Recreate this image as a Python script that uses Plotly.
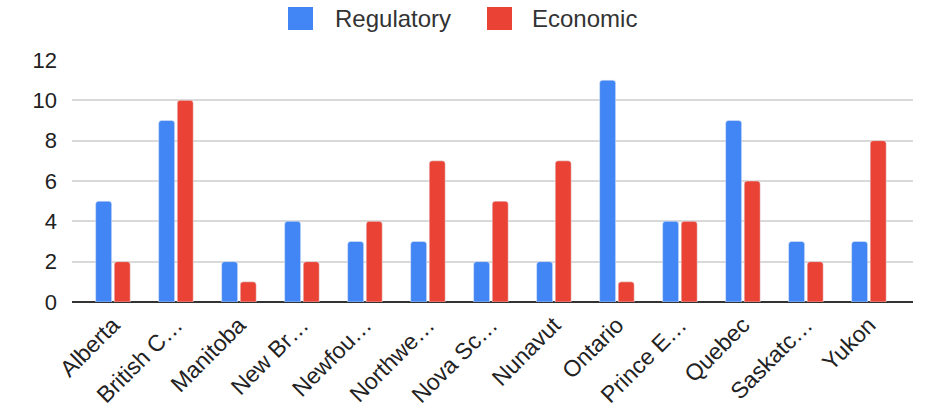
import plotly.graph_objects as go

categories = ["Alberta", "British C…", "Manitoba", "New Br…", "Newfou…", "Northwe…",
              "Nova Sc…", "Nunavut", "Ontario", "Prince E…", "Quebec", "Saskatc…", "Yukon"]
regulatory = [5, 9, 2, 4, 3, 3, 2, 2, 11, 4, 9, 3, 3]
economic = [2, 10, 1, 2, 4, 7, 5, 7, 1, 4, 6, 2, 8]
y_ticks = [0, 2, 4, 6, 8, 10, 12]
series_names = ["Regulatory", "Economic"]

BLUE = "#4285F4"
RED = "#EA4335"
FONT = "Liberation Sans, Arial, sans-serif"

W, H = 925, 407
ML, MR, MT, MB = 72, 12, 60, 105
PW, PH = W - ML - MR, H - MT - MB

def px_x(p):
    return (p - ML) / PW

def px_y(p):
    return (H - MB - p) / PH

fig = go.Figure()
fig.add_trace(go.Bar(x=categories, y=regulatory, name=series_names[0], marker_color=BLUE))
fig.add_trace(go.Bar(x=categories, y=economic, name=series_names[1], marker_color=RED))

# manual legend with large swatches (top centre)
legend_items = [(series_names[0], BLUE, 288, 333), (series_names[1], RED, 487, 530)]
for name, col, sx, tx in legend_items:
    fig.add_shape(type="rect", xref="paper", yref="paper",
                  x0=px_x(sx), x1=px_x(sx + 25), y0=px_y(30), y1=px_y(7),
                  fillcolor=col, line=dict(width=0), layer="above")
    fig.add_annotation(xref="paper", yref="paper", x=px_x(tx), y=px_y(18.5),
                       xanchor="left", yanchor="middle", showarrow=False, text=name,
                       font=dict(family=FONT, size=24, color="#333333"))

fig.update_layout(
    width=W, height=H,
    margin=dict(l=ML, r=MR, t=MT, b=MB),
    paper_bgcolor="white", plot_bgcolor="white",
    font=dict(family=FONT, size=22, color="#222222"),
    barmode="group", bargap=0.41, bargroupgap=0.14,
    barcornerradius=3,
    showlegend=False,
    xaxis=dict(type="category", range=[-0.65, 12.7], tickangle=-45,
               tickfont=dict(size=23, color="#222222"), showgrid=False,
               showline=False, ticks="", automargin=False, ticklabelstandoff=4),
    yaxis=dict(range=[0, 12], tickvals=y_ticks, showgrid=True, gridcolor="#d9d9d9",
               gridwidth=1.5, zeroline=True, zerolinecolor="#333333", zerolinewidth=1.5,
               tickfont=dict(size=22, color="#222222"), ticks="", ticklabelstandoff=14,
               automargin=False),
)

fig.write_html("out.html")
